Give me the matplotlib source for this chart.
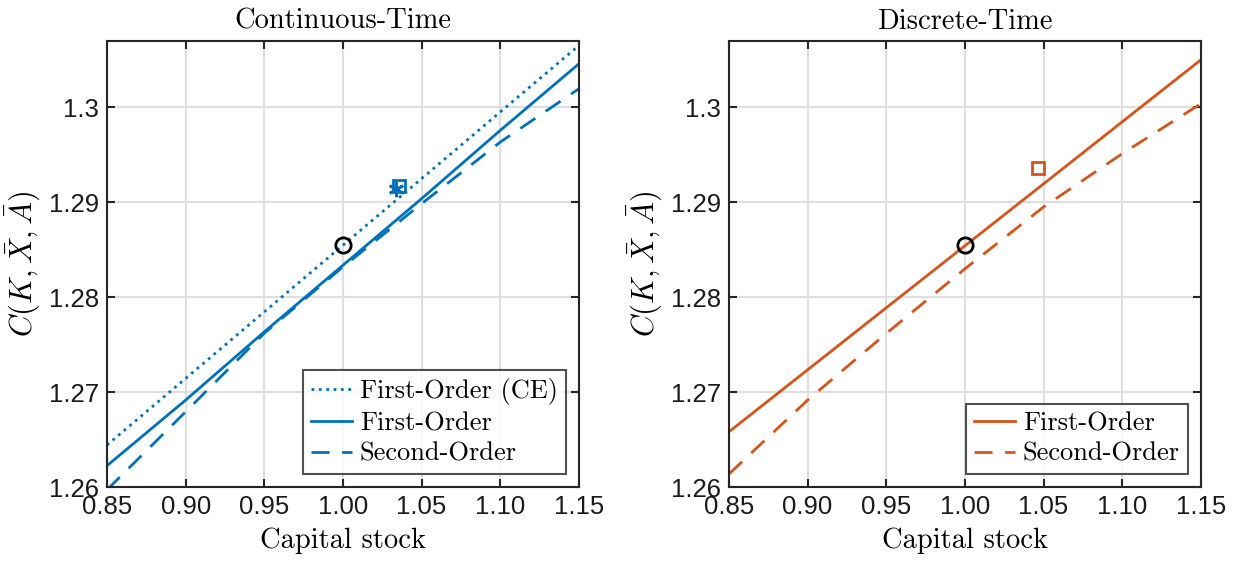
import numpy as np
import matplotlib
matplotlib.use("Agg")
import matplotlib.pyplot as plt

plt.rcParams['mathtext.fontset'] = 'cm'
plt.rcParams['axes.formatter.use_mathtext'] = True

# capital stock grid
k = [0.85, 0.90, 0.95, 1.00, 1.05, 1.10, 1.15]

# continuous-time
ct_first_ce = [1.26442, 1.27144, 1.27846, 1.28548, 1.29250, 1.29952, 1.30653]
ct_first = [1.26224, 1.26916, 1.27635, 1.28337, 1.29039, 1.29758, 1.30460]
ct_second = [1.25970, 1.26793, 1.27621, 1.28320, 1.28986, 1.29635, 1.30197]

# discrete-time
dt_first = [1.26582, 1.27235, 1.27889, 1.28542, 1.29195, 1.29849, 1.30502]
dt_second = [1.26137, 1.26916, 1.27618, 1.28300, 1.28951, 1.29513, 1.30040]

# steady state and stochastic steady states
ss = (1.0, 1.28548)
ct_sss_square = (1.0355, 1.29168)
ct_sss_star = (1.0335, 1.29137)
dt_sss_square = (1.0466, 1.29361)

xticks = [0.85, 0.90, 0.95, 1.00, 1.05, 1.10, 1.15]
xticklabels = ['0.85', '0.90', '0.95', '1.00', '1.05', '1.10', '1.15']
yticks = [1.26, 1.27, 1.28, 1.29, 1.30]
yticklabels = ['1.26', '1.27', '1.28', '1.29', '1.3']

blue = '#0072BD'
orange = '#D95319'
serif = 'cmr10'
tickfont = 'Liberation Sans'

fig = plt.figure(figsize=(12.41, 5.61), dpi=100)
ax1 = fig.add_axes([0.0862, 0.1319, 0.3803, 0.795])
ax2 = fig.add_axes([0.5874, 0.1319, 0.3803, 0.795])

# left panel
ax1.plot(k, ct_first_ce, ':', color=blue, lw=2, label='First-Order (CE)')
ax1.plot(k, ct_first, '-', color=blue, lw=2, label='First-Order')
ax1.plot(k, ct_second, '--', color=blue, lw=2, dashes=(6.5, 4.5), label='Second-Order')
ax1.plot(*ss, 'o', mfc='none', mec='black', mew=2, ms=11)
ax1.plot(*ct_sss_square, 's', mfc='none', mec=blue, mew=2, ms=9)
ax1.plot(*ct_sss_star, marker=(6, 2, 0), color=blue, mew=2, ms=11)
ax1.set_title('Continuous-Time', family=serif, fontsize=20.5, pad=9)

# right panel
ax2.plot(k, dt_first, '-', color=orange, lw=2, label='First-Order')
ax2.plot(k, dt_second, '--', color=orange, lw=2, dashes=(6.5, 4.5), label='Second-Order')
ax2.plot(*ss, 'o', mfc='none', mec='black', mew=2, ms=11)
ax2.plot(*dt_sss_square, 's', mfc='none', mec=orange, mew=2, ms=9)
ax2.set_title('Discrete-Time', family=serif, fontsize=20.5, pad=9)

for ax in (ax1, ax2):
    ax.set_xlim(0.85, 1.15)
    ax.set_ylim(1.26, 1.307)
    ax.set_xticks(xticks)
    ax.set_xticklabels(xticklabels, family=tickfont, fontsize=18.5)
    ax.set_yticks(yticks)
    ax.set_yticklabels(yticklabels, family=tickfont, fontsize=18.5)
    ax.tick_params(direction='in', top=True, right=True, length=6, width=1.5,
                   colors='#262626', labelcolor='#1a1a1a', pad=6)
    ax.grid(True, color='#dfdfdf', lw=1.5)
    ax.set_axisbelow(True)
    for s in ax.spines.values():
        s.set_linewidth(1.5)
        s.set_color('#262626')
    ax.set_xlabel('Capital stock', family=serif, fontsize=20.5, labelpad=6)
    ax.set_ylabel(r'$C(K,\bar{X},\bar{A})$', fontsize=22, labelpad=4)
    leg = ax.legend(loc='lower right', prop={'family': serif, 'size': 19},
                    frameon=True, fancybox=False, edgecolor='#262626',
                    handlelength=1.55, handletextpad=0.3, borderpad=0.3,
                    labelspacing=0.25, borderaxespad=0.5)
    leg.get_frame().set_linewidth(1.5)

fig.savefig('out.png', dpi=100)
